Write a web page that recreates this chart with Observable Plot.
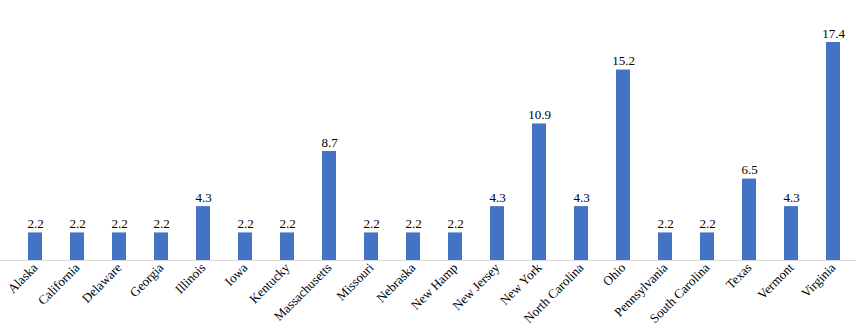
<!DOCTYPE html>
<html>
<head>
<meta charset="utf-8">
<script src="https://cdn.jsdelivr.net/npm/d3@7"></script>
<script src="https://cdn.jsdelivr.net/npm/@observablehq/plot@0.6"></script>
<style>
  body { margin: 0; background: #fff; }
</style>
</head>
<body>
<div id="chart"></div>
<script>
const states = ["Alaska","California","Delaware","Georgia","Illinois","Iowa","Kentucky","Massachusetts","Missouri","Nebraska","New Hamp","New Jersey","New York","North Carolina","Ohio","Pennsylvania","South Carolina","Texas","Vermont","Virginia"];
const values = [2.2,2.2,2.2,2.2,4.3,2.2,2.2,8.7,2.2,2.2,2.2,4.3,10.9,4.3,15.2,2.2,2.2,6.5,4.3,17.4];

const data = states.map((s, i) => ({state: s, value: values[i]}));
const FONT = "Liberation Serif";

const chart = Plot.plot({
  width: 866,
  height: 336,
  marginTop: 42,
  marginBottom: 76,
  marginLeft: 0,
  marginRight: 10,
  style: {fontFamily: FONT, fontSize: "13px", color: "#000"},
  x: {domain: states, paddingInner: 0.67, paddingOuter: 0.335, insetLeft: 11, label: null, axis: null},
  y: {domain: [0, 17.4], axis: null},
  marks: [
    Plot.barY(data, {x: "state", y: "value", fill: "#4472C4"}),
    Plot.ruleY([0], {stroke: "#d9d9d9", strokeWidth: 1}),
    Plot.axisX({tickSize: 0, tickPadding: 5, tickRotate: -45, fontFamily: FONT, fontSize: 13, fill: "#000", label: null}),
    Plot.text(data, {x: "state", y: "value", text: d => d.value.toFixed(1), lineAnchor: "bottom", dy: -5, fontSize: 13, fontFamily: FONT, fill: "#000"})
  ]
});
document.getElementById("chart").appendChild(chart);
</script>
</body>
</html>
